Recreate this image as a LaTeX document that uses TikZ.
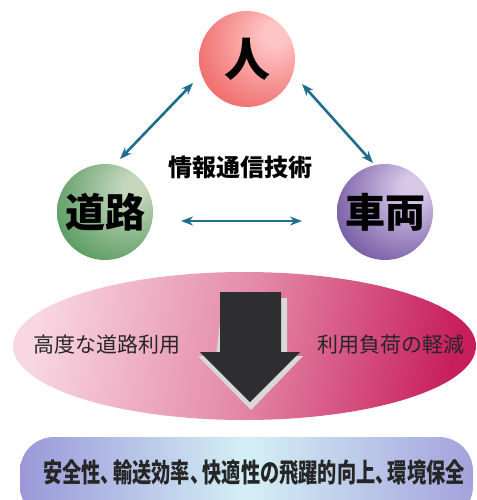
\documentclass[tikz,border=0pt]{standalone}
\usepackage{fontspec}
\newfontfamily\jp{Noto Sans CJK JP}
\usetikzlibrary{arrows.meta,shapes.geometric}
\definecolor{jinL}{HTML}{FFC4C4}
\definecolor{jinB}{HTML}{EE5E5E}
\definecolor{roL}{HTML}{C4D6BC}
\definecolor{roB}{HTML}{4B9354}
\definecolor{shaL}{HTML}{D8C8E8}
\definecolor{shaB}{HTML}{684C9A}
\definecolor{linkblue}{HTML}{1F6C8E}
\definecolor{ovL}{HTML}{F8D6E2}
\definecolor{ovM}{HTML}{E48AA8}
\definecolor{ovR}{HTML}{C81F5C}
\definecolor{bxL}{HTML}{9A98D8}
\definecolor{bxM}{HTML}{D4F0F6}
\definecolor{bxR}{HTML}{A4A2DC}
\definecolor{arrDark}{HTML}{2E2E30}
\definecolor{arrEdge}{HTML}{D8D8D8}
\pgfdeclareradialshading{jinshade}{\pgfpoint{16bp}{14bp}}{color(0bp)=(jinL);color(6bp)=(jinL);color(42bp)=(jinB);color(80bp)=(jinB)}
\pgfdeclareradialshading{roshade}{\pgfpoint{16bp}{14bp}}{color(0bp)=(roL);color(6bp)=(roL);color(42bp)=(roB);color(80bp)=(roB)}
\pgfdeclareradialshading{shashade}{\pgfpoint{16bp}{14bp}}{color(0bp)=(shaL);color(6bp)=(shaL);color(42bp)=(shaB);color(80bp)=(shaB)}
\tikzset{
  ball/.style={circle, minimum size=96pt, inner sep=0pt, text=black,
    font=\jp\bfseries\fontsize{40}{40}\selectfont},
  link/.style={draw=linkblue, line width=2.6pt,
    {Stealth[length=12pt,width=9pt]}-{Stealth[length=12pt,width=9pt]}},
  ovtext/.style={text=black!85, font=\jp\fontsize{21}{21}\selectfont, inner sep=0pt},
}
\newcommand{\jcomma}{、\kern-0.35em}
\begin{document}
\begin{tikzpicture}[x=1pt,y=-1pt]
\useasboundingbox (0,0) rectangle (476,500);
% big ellipse
\shade[left color=ovL, right color=ovR, middle color=ovM, shading angle=80]
  (244.5,346) ellipse (231.5 and 74);
% bottom pill box
\shade[left color=bxL, right color=bxR, middle color=bxM, rounded corners=34pt]
  (20,437) rectangle (473,520);
% block arrow
\fill[arrEdge] (223,298) -- (287,298) -- (287,356) -- (303,356) -- (251,410)
  -- (198,356) -- (216,356) -- cycle;
\fill[arrDark] (220,292) -- (281,292) -- (281,352) -- (300,352) -- (250,402)
  -- (200,352) -- (220,352) -- cycle;
% circles
\node[ball, shading=jinshade, font=\jp\bfseries\fontsize{46}{46}\selectfont] (jin) at (247,59) {人};
\node[ball, shading=roshade] (road) at (105,212) {道路};
\node[ball, shading=shashade] (car) at (385,212) {車両};
% connector end points
\coordinate (jL) at (193,83);
\coordinate (rT) at (120,159);
\coordinate (jR) at (302,84);
\coordinate (cT) at (373,163);
\coordinate (rR) at (181,221);
\coordinate (cL) at (302,221);
\draw[link] (jL) -- (rT);
\draw[link] (jR) -- (cT);
\draw[link] (rR) -- (cL);
% texts
\node[font=\jp\bfseries\fontsize{24}{24}\selectfont, inner sep=0pt] (ict) at (240,167) {情報通信技術};
\node[ovtext] (adv) at (107,345) {高度な道路利用};
\node[ovtext] (load) at (391,345) {利用負荷の軽減};
\node[font=\jp\bfseries\fontsize{24}{24}\selectfont, inner sep=0pt, text=black!85] (goal) at (254,473) {\scalebox{0.8}[1.1]{安全性\jcomma 輸送効率\jcomma 快適性の飛躍的向上\jcomma 環境保全}};
\end{tikzpicture}
\end{document}
